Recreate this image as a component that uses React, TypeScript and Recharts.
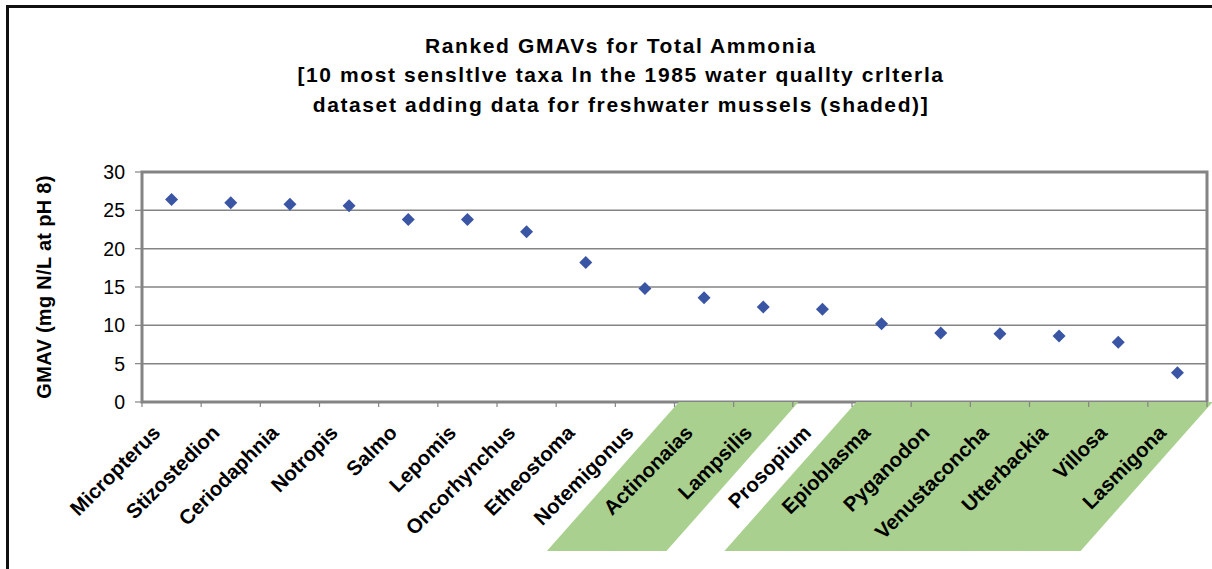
import React from 'react';
import { ScatterChart, Scatter, XAxis, YAxis, CartesianGrid, ReferenceArea } from 'recharts';

const taxa = [
  'Micropterus', 'Stizostedion', 'Ceriodaphnia', 'Notropis', 'Salmo', 'Lepomis',
  'Oncorhynchus', 'Etheostoma', 'Notemigonus', 'Actinonaias', 'Lampsilis', 'Prosopium',
  'Epioblasma', 'Pyganodon', 'Venustaconcha', 'Utterbackia', 'Villosa', 'Lasmigona',
];
const gmav = [26.4, 26.0, 25.8, 25.6, 23.8, 23.8, 22.2, 18.2, 14.8, 13.6, 12.4, 12.1, 10.2, 9.0, 8.9, 8.6, 7.8, 3.8];
const musselTaxa = ['Actinonaias', 'Lampsilis', 'Epioblasma', 'Pyganodon', 'Venustaconcha', 'Utterbackia', 'Villosa', 'Lasmigona'];
const yTicks = [0, 5, 10, 15, 20, 25, 30];
const titleLines = [
  'Ranked GMAVs for Total Ammonia',
  '[10 most sensltlve taxa ln the 1985 water quallty crlterla',
  'dataset adding data for freshwater mussels (shaded)]',
];
const yLabel = 'GMAV (mg N/L at pH 8)';

const data = taxa.map((name, i) => ({ name, value: gmav[i] }));

const W = 1212;
const H = 569;
const M = { top: 172, right: 5, left: 82, bottom: 47 };
const Y_W = 60;
const X_H = 120;
const PLOT_W = W - M.left - Y_W - M.right;
const FONT = '"Liberation Sans", Arial, Helvetica, sans-serif';
const GREEN = '#A9D08E';
const GRAY = '#848484';
const BLUE = '#3B55A5';

const Diamond = (props: any) => {
  const { cx, cy } = props;
  if (cx == null || cy == null) return null;
  const r = 6.5;
  return <polygon points={`${cx},${cy - r} ${cx + r},${cy} ${cx},${cy + r} ${cx - r},${cy}`} fill={BLUE} />;
};

const XTick = (props: any) => {
  const { x, y, payload, index, visibleTicksCount } = props;
  const n = visibleTicksCount || taxa.length;
  const bw = (props.width && props.width > 0 ? props.width : PLOT_W) / n;
  const name = payload.value;
  const shaded = musselTaxa.includes(name);
  const off = 5;
  const shift = 132;
  const depth = 149;
  const L = x - bw / 2 + off - 0.6;
  const R = x + bw / 2 + off + 0.6;
  const tx = x - 10;
  const ty = y + 32;
  return (
    <g>
      {shaded && (
        <polygon
          points={`${L},${y} ${R},${y} ${R - shift},${y + depth} ${L - shift},${y + depth}`}
          fill={GREEN}
        />
      )}
      <line x1={x - bw / 2} y1={y} x2={x - bw / 2} y2={y + 5} stroke={GRAY} strokeWidth={1.2} />
      {index === n - 1 && (
        <line x1={x + bw / 2} y1={y} x2={x + bw / 2} y2={y + 5} stroke={GRAY} strokeWidth={1.2} />
      )}
      <text
        x={tx}
        y={ty}
        textAnchor="end"
        transform={`rotate(-45 ${tx} ${ty})`}
        fontFamily={FONT}
        fontWeight="bold"
        fontSize={20.5}
        fill="#000"
      >
        {name}
      </text>
    </g>
  );
};

const YLabel = (props: any) => {
  const vb = props.viewBox || { x: M.left, y: M.top, width: Y_W, height: 230 };
  const x = vb.x - 31;
  const y = vb.y + vb.height / 2;
  return (
    <text
      x={x}
      y={y}
      textAnchor="middle"
      transform={`rotate(-90 ${x} ${y})`}
      fontFamily={FONT}
      fontWeight="bold"
      fontSize={20}
      letterSpacing={0.3}
      fill="#000"
    >
      {yLabel}
    </text>
  );
};

export default function App() {
  return (
    <div style={{ position: 'absolute', left: 0, top: 0, width: W, height: H, overflow: 'hidden', background: '#fff' }}>
      <div
        style={{
          position: 'absolute', left: 121, top: 30.5, width: 1000, textAlign: 'center',
          fontFamily: FONT, fontWeight: 'bold', fontSize: 21, lineHeight: '29.5px',
          letterSpacing: '1.6px', color: '#000',
        }}
      >
        {titleLines.map((t) => (
          <div key={t}>{t}</div>
        ))}
      </div>
      <div style={{ position: 'absolute', left: 0, top: 0 }}>
        <ScatterChart width={W} height={H} data={data} margin={M}>
          <CartesianGrid vertical={false} stroke={GRAY} strokeWidth={1.5} />
          <XAxis
            dataKey="name"
            type="category"
            allowDuplicatedCategory={false}
            height={X_H}
            interval={0}
            tickSize={0}
            tickMargin={0}
            tickLine={false}
            axisLine={false}
            tick={<XTick />}
          />
          <YAxis
            dataKey="value"
            type="number"
            domain={[0, 30]}
            ticks={yTicks}
            width={Y_W}
            tickSize={7}
            tickMargin={10}
            axisLine={false}
            tickLine={{ stroke: GRAY, strokeWidth: 1.2 }}
            tick={{ fontFamily: FONT, fontSize: 19.5, fill: '#000' }}
            label={{ content: <YLabel /> } as any}
          />
          <ReferenceArea y1={0} y2={30} fill="none" stroke={GRAY} strokeWidth={3} ifOverflow="visible" />
          <Scatter dataKey="value" data={data} shape={<Diamond />} isAnimationActive={false} />
        </ScatterChart>
      </div>
      <svg width={W} height={H} style={{ position: 'absolute', left: 0, top: 0, pointerEvents: 'none' }}>
        <line x1={7.5} y1={5} x2={7.5} y2={H} stroke="#111" strokeWidth={3} />
        <line x1={6} y1={6.5} x2={W} y2={6.5} stroke="#111" strokeWidth={3} />
      </svg>
    </div>
  );
}
